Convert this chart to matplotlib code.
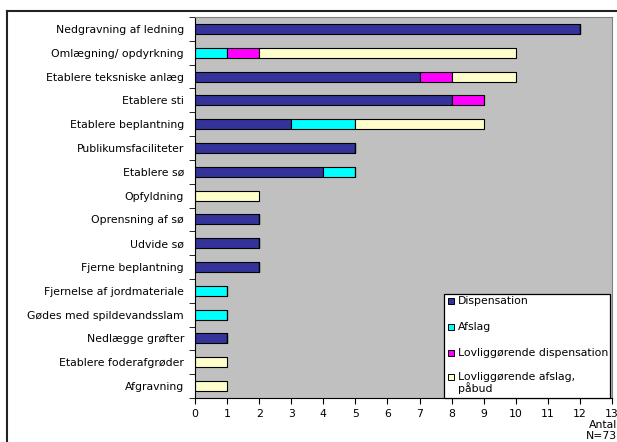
import matplotlib.pyplot as plt
import numpy as np
from matplotlib.patches import Rectangle
from matplotlib.lines import Line2D

kategorier = ['Nedgravning af ledning', 'Omlægning/ opdyrkning', 'Etablere teksniske anlæg',
              'Etablere sti', 'Etablere beplantning', 'Publikumsfaciliteter', 'Etablere sø',
              'Opfyldning', 'Oprensning af sø', 'Udvide sø', 'Fjerne beplantning',
              'Fjernelse af jordmateriale', 'Gødes med spildevandsslam', 'Nedlægge grøfter',
              'Etablere foderafgrøder', 'Afgravning']

dispensation = [12, 0, 7, 8, 3, 5, 4, 0, 2, 2, 2, 0, 0, 1, 0, 0]
afslag = [0, 1, 0, 0, 2, 0, 1, 0, 0, 0, 0, 1, 1, 0, 0, 0]
lovlig_disp = [0, 1, 1, 1, 0, 0, 0, 0, 0, 0, 0, 0, 0, 0, 0, 0]
lovlig_afslag = [0, 8, 2, 0, 4, 0, 0, 2, 0, 0, 0, 0, 0, 0, 1, 1]

serier = [('Dispensation', dispensation, '#333399'),
          ('Afslag', afslag, '#00FFFF'),
          ('Lovliggørende dispensation', lovlig_disp, '#FF00FF'),
          ('Lovliggørende afslag,\npåbud', lovlig_afslag, '#FFFFCC')]

plt.rcParams['font.family'] = 'DejaVu Sans'
plt.rcParams['font.size'] = 7.8

W, H = 617, 442
fig = plt.figure(figsize=(W/100, H/100), dpi=100)
ax = fig.add_axes([195/W, 1-398/H, (612-195)/W, (398-17)/H])
ax.set_facecolor('#C0C0C0')

y = np.arange(len(kategorier))
venstre = np.zeros(len(kategorier))
for navn, vaerdier, farve in serier:
    v = np.array(vaerdier, dtype=float)
    ax.barh(y, v, left=venstre, height=0.42, color=farve, edgecolor='black', linewidth=0.8)
    venstre += v

ax.set_ylim(len(kategorier) - 0.5, -0.5)
ax.set_xlim(0, 13)
ax.set_yticks(y)
ax.set_yticklabels(kategorier)
ax.set_yticks(np.arange(-0.5, len(kategorier)), minor=True)
ax.tick_params(axis='y', which='major', length=0, pad=8)
ax.tick_params(axis='y', which='minor', length=4, direction='out')
ax.set_xticks(np.arange(0, 14))
ax.tick_params(axis='x', length=4, direction='out', pad=4)

for s in ['top', 'right']:
    ax.spines[s].set_color('#808080')
for s in ['left', 'bottom']:
    ax.spines[s].set_color('black')

fig.text(1, 1-425/H, 'Antal', ha='right', va='center')
fig.text(1, 1-436/H, 'N=73', ha='right', va='center')

# forklaring (tegnet i figurkoordinater)
fig.add_artist(Rectangle((444/W, 1-398/H), (610-444)/W, (398-294)/H, transform=fig.transFigure,
                         facecolor='white', edgecolor='black', linewidth=0.9, zorder=5))
linje_y = [301, 327, 353, 377]
for (navn, _, farve), ly in zip(serier, linje_y):
    fig.add_artist(Rectangle((448/W, 1-(ly+3)/H), 6/W, 6/H, transform=fig.transFigure,
                             facecolor=farve, edgecolor='black', linewidth=0.7, zorder=6))
    fig.text(458/W, 1-(ly-5)/H, navn, ha='left', va='top', zorder=7, linespacing=1.05,
             fontsize=7.8)

# ydre ramme
fig.add_artist(Line2D([7/W, 1], [1-11/H, 1-11/H], color='#222222', linewidth=1.5))
fig.add_artist(Line2D([7/W, 7/W], [0, 1-11/H], color='#222222', linewidth=1.5))

fig.savefig('out.png', dpi=100)
